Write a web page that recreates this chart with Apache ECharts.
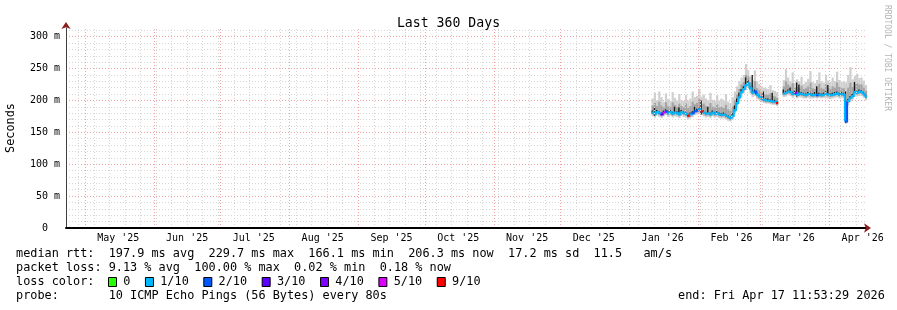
<!DOCTYPE html>
<html><head><meta charset="utf-8">
<script src="https://cdn.jsdelivr.net/npm/echarts@6/dist/echarts.min.js"></script>
<style>html,body{margin:0;padding:0;background:#fff}#c{width:897px;height:310px}</style>
</head><body><div id="c"></div>
<script>
// ---------- data (daily samples, values in milliseconds) ----------
const dayLabels = [
 '2026-01-11','2026-01-12','2026-01-13','2026-01-14','2026-01-15','2026-01-16','2026-01-17','2026-01-18','2026-01-19','2026-01-20',
 '2026-01-21','2026-01-22','2026-01-23','2026-01-24','2026-01-25','2026-01-26','2026-01-27','2026-01-28','2026-01-29','2026-01-30','2026-01-31',
 '2026-02-01','2026-02-02','2026-02-03','2026-02-04','2026-02-05','2026-02-06','2026-02-07','2026-02-08','2026-02-09','2026-02-10',
 '2026-02-11','2026-02-12','2026-02-13','2026-02-14','2026-02-15','2026-02-16','2026-02-17','2026-02-18','2026-02-19','2026-02-20',
 '2026-02-21','2026-02-22','2026-02-23','2026-02-24','2026-02-25','2026-02-26','2026-02-27','2026-02-28',
 '2026-03-01','2026-03-02','2026-03-03','2026-03-04','2026-03-05','2026-03-06','2026-03-07','2026-03-08','2026-03-09','2026-03-10',
 '2026-03-11','2026-03-12','2026-03-13','2026-03-14','2026-03-15','2026-03-16','2026-03-17','2026-03-18','2026-03-19','2026-03-20',
 '2026-03-21','2026-03-22','2026-03-23','2026-03-24','2026-03-25','2026-03-26','2026-03-27','2026-03-28','2026-03-29','2026-03-30','2026-03-31',
 '2026-04-01','2026-04-02','2026-04-03','2026-04-04','2026-04-05','2026-04-06','2026-04-07','2026-04-08','2026-04-09','2026-04-10',
 '2026-04-11','2026-04-12','2026-04-13','2026-04-14','2026-04-15','2026-04-16','2026-04-17'
];
const median = [
 181,179,182,180,178,181,183,180,182,179,181,180,178,182,180,179,176,178,180,183,184,
 186,183,181,179,180,178,181,179,180,178,177,178,176,174,172,176,185,196,205,213,218,224,227,219,212,214,209,206,
 203,201,200,200,199,198,198,196,null,null,211,212,214,213,210,212,209,211,210,209,208,210,209,208,209,208,209,208,209,210,209,
 208,209,210,211,209,210,209,167,199,204,207,213,212,214,213,210,206
];
const smokeMin = [
 175,173,176,174,172,175,177,174,176,173,175,174,172,176,174,173,170,172,174,177,178,
 180,177,175,173,174,172,175,173,174,172,171,172,170,168,167,170,178,189,198,206,211,216,219,211,205,207,202,200,
 197,196,195,195,194,193,193,191,null,null,205,206,208,207,204,206,203,205,204,203,203,204,203,203,204,203,204,203,204,204,203,
 202,203,204,205,203,204,203,163,192,198,201,206,206,207,207,204,200
];
const smokeMax = [
 203,212,200,214,205,198,211,202,199,213,204,200,210,201,199,209,200,203,214,205,207,
 218,206,209,203,200,212,201,199,208,200,203,199,210,198,196,205,214,222,230,236,240,257,248,237,232,247,230,226,
 222,220,219,218,224,216,215,213,null,null,232,249,236,230,244,228,233,230,237,226,229,234,246,229,227,232,244,230,228,240,231,
 229,236,230,245,232,229,230,228,240,252,233,238,242,235,236,231,224
];
const midLo = [
 178,176,179,177,175,178,180,177,179,176,178,177,175,179,177,176,173,175,177,180,181,
 183,180,178,176,177,175,178,176,177,175,174,175,173,171,169,173,182,193,202,210,215,221,224,216,209,211,206,203,
 200,198,197,197,196,195,195,193,null,null,208,209,211,210,207,209,206,208,207,206,205,207,206,205,206,205,206,205,206,207,206,
 205,206,207,208,206,207,206,165,196,201,204,210,209,211,210,207,203
];
const midHi = [
 192,196,191,198,192,189,197,191,190,197,193,190,195,191,189,195,188,191,198,194,196,
 202,194,195,191,190,196,190,189,194,189,190,188,193,186,184,190,200,209,218,225,229,240,238,228,222,230,219,216,
 212,210,209,209,211,207,206,204,null,null,222,230,225,222,227,220,221,220,223,218,219,222,228,219,218,221,226,219,218,225,220,
 218,222,220,228,221,219,219,200,220,228,221,226,227,225,225,220,215
];
const darkLo = [
 180,176,181,179,177,180,182,179,181,178,180,179,177,181,179,178,175,177,179,182,183,
 185,178,180,178,179,177,180,178,179,177,176,177,175,173,171,175,184,195,204,212,217,223,226,218,211,213,208,205,
 202,200,199,199,198,197,197,195,null,null,210,211,213,212,209,211,206,208,209,208,207,209,208,207,208,207,208,207,208,209,208,
 207,208,209,210,208,209,208,165,198,203,206,212,211,213,212,209,205
];
const darkHi = [
 184,189,185,183,181,184,186,183,185,182,190,183,189,185,183,182,179,181,183,190,187,
 189,200,184,182,190,181,184,182,183,181,180,181,179,177,175,180,192,203,212,218,222,236,232,222,240,217,213,209,
 206,214,203,203,202,212,201,199,null,null,217,215,217,220,213,215,228,225,213,212,211,213,212,211,213,222,212,211,212,214,224,
 211,212,213,214,212,213,212,214,202,207,210,229,215,217,216,213,209
];
const lostPings = [
 1,1,1,1,3,5,2,1,1,1,1,1,1,1,1,1,9,1,2,2,2,
 1,9,1,1,1,1,1,1,1,1,1,1,1,1,1,1,1,1,1,1,1,1,1,1,1,2,1,1,
 1,1,1,1,1,1,1,9,null,null,1,1,1,1,1,4,1,1,1,1,1,1,1,1,1,2,1,1,1,1,1,
 1,1,1,1,1,1,1,2,1,1,1,1,1,1,1,1,1
];
const lossLevels = [0,1,2,3,4,5,9];
const lossLabels = ['0','1/10','2/10','3/10','4/10','5/10','9/10'];
const lossColors = ['#26ff00','#00b8ff','#0059ff','#5e00ff','#7e00ff','#dd00ff','#ff0000'];

const yTickValues = [0,50,100,150,200,250,300];
const monthStarts = ['2025-05-01','2025-06-01','2025-07-01','2025-08-01','2025-09-01','2025-10-01',
 '2025-11-01','2025-12-01','2026-01-01','2026-02-01','2026-03-01','2026-04-01'];
const monthLabelDates = ['2025-05-16','2025-06-16','2025-07-16','2025-08-16','2025-09-16','2025-10-16',
 '2025-11-16','2025-12-16','2026-01-16','2026-02-16','2026-03-16','2026-04-16'];
const weekTicks = ['2025-04-28','2025-05-05','2025-05-12','2025-05-19','2025-05-26','2025-06-02','2025-06-09',
 '2025-06-16','2025-06-23','2025-06-30','2025-07-07','2025-07-14','2025-07-21','2025-07-28','2025-08-04',
 '2025-08-11','2025-08-18','2025-08-25','2025-09-01','2025-09-08','2025-09-15','2025-09-22','2025-09-29',
 '2025-10-06','2025-10-13','2025-10-20','2025-10-27','2025-11-03','2025-11-10','2025-11-17','2025-11-24',
 '2025-12-01','2025-12-08','2025-12-15','2025-12-22','2025-12-29','2026-01-05','2026-01-12','2026-01-19',
 '2026-01-26','2026-02-02','2026-02-09','2026-02-16','2026-02-23','2026-03-02','2026-03-09','2026-03-16',
 '2026-03-23','2026-03-30','2026-04-06','2026-04-13'];
const monthNames = ['Jan','Feb','Mar','Apr','May','Jun','Jul','Aug','Sep','Oct','Nov','Dec'];

const titleText = 'Last 360 Days';
const legendRow1 = 'median rtt:  197.9 ms avg  229.7 ms max  166.1 ms min  206.3 ms now  17.2 ms sd  11.5   am/s';
const legendRow2 = 'packet loss: 9.13 % avg  100.00 % max  0.02 % min  0.18 % now';
const legendRow3 = 'loss color:';
const legendRow4 = 'probe:       10 ICMP Echo Pings (56 Bytes) every 80s';
const endText = 'end: Fri Apr 17 11:53:29 2026';

// ---------- build ----------
const DAY = 86400000;
const toTs = s => Date.parse(s + 'T00:00:00Z');
const END_TS = Date.UTC(2026, 3, 17, 11, 53, 29);
const START_TS = END_TS - 360 * DAY;
const MONO = '"DejaVu Sans Mono", monospace';
const CW = 7.14;
const MINOR = '#d6d6d6', MAJOR = '#f0a4a4', ARROW = '#8b1c1c';

function band(lo, hi) {
  const out = [];
  dayLabels.forEach((d, i) => { if (lo[i] != null && hi[i] != null) out.push([toTs(d), lo[i], hi[i]]); });
  return out;
}
function rectItem(color, frac) {
  return function (params, api) {
    const t = api.value(0);
    const a = api.coord([t, api.value(2)]);
    const b = api.coord([t + DAY * frac, api.value(1)]);
    return { type: 'rect', shape: { x: a[0], y: a[1], width: b[0] - a[0], height: Math.max(1, b[1] - a[1]) },
      style: { fill: color } };
  };
}
const medData = [];
dayLabels.forEach((d, i) => { if (median[i] != null) medData.push([toTs(d), median[i], lostPings[i]]); });
const colorFor = n => lossColors[Math.max(0, lossLevels.indexOf(n))];

function yLabel(v) {
  if (yTickValues.indexOf(v) < 0) return '';
  if (v === 0) return '0  ';
  return String(v) + ' m';
}

const graphics = [];
const rowY = [254, 268, 282, 296];
const rowFont = '11.85px ' + MONO;
[legendRow1, legendRow2, legendRow3, legendRow4].forEach((t, i) => {
  graphics.push({ type: 'text', x: 16, y: rowY[i], style: { text: t, font: rowFont, fill: '#000', textVerticalAlign: 'middle' } });
});
let sx = 108;
lossLabels.forEach((lab, i) => {
  graphics.push({ type: 'rect', shape: { x: sx + 0.5, y: rowY[2] - 4.5, width: 8, height: 9 },
    style: { fill: lossColors[i], stroke: '#000', lineWidth: 1 } });
  graphics.push({ type: 'text', x: sx + 15.3, y: rowY[2], style: { text: lab, font: rowFont, fill: '#000', textVerticalAlign: 'middle' } });
  sx = sx + 15.3 + lab.length * CW + 14.5;
});
graphics.push({ type: 'text', x: 678, y: rowY[3], style: { text: endText, font: rowFont, fill: '#000', textVerticalAlign: 'middle' } });
graphics.push({ type: 'text', x: 887, y: 5, rotation: -Math.PI / 2,
  style: { text: 'RRDTOOL / TOBI OETIKER', font: '8px ' + MONO, fill: '#b4b4b4', textAlign: 'left', textVerticalAlign: 'middle' } });

const vGrid = (ticks, color) => ({
  type: 'line', data: [], z: 1, silent: true,
  markLine: { symbol: 'none', silent: true, animation: false, label: { show: false },
    lineStyle: { color: color, type: [1, 2], width: 1 },
    data: ticks.map(d => ({ xAxis: toTs(d) })) }
});

const chart = echarts.init(document.getElementById('c'), null, { renderer: 'canvas' });
chart.setOption({
  animation: false,
  backgroundColor: '#fff',
  title: { text: titleText, left: 'center', top: 12,
    textStyle: { fontFamily: MONO, fontSize: 13.2, fontWeight: 'normal', color: '#000' } },
  grid: { left: 66, right: 31, top: 28, bottom: 82, containLabel: false, outerBoundsMode: 'none' },
  xAxis: [{
    type: 'value', min: START_TS, max: END_TS, z: 5,
    axisLine: { show: true, lineStyle: { color: '#000', width: 2 } },
    axisTick: { show: false },
    splitLine: { show: false },
    axisLabel: {
      customValues: monthLabelDates.map(toTs),
      formatter: v => { const d = new Date(v); return monthNames[d.getUTCMonth()] + " '" + String(d.getUTCFullYear()).slice(2); },
      fontFamily: MONO, fontSize: 10, color: '#000', margin: 5, hideOverlap: false
    }
  }, {
    type: 'value', min: START_TS, max: END_TS, position: 'bottom', z: 5,
    axisLine: { show: true, lineStyle: { color: ARROW, width: 0 }, symbol: ['none', 'arrow'], symbolSize: [7, 7], symbolOffset: [0, 5] },
    axisTick: { show: false }, axisLabel: { show: false }, splitLine: { show: false }
  }],
  yAxis: [{
    type: 'value', min: 0, max: 313.5, interval: 10,
    name: 'Seconds', nameLocation: 'middle', nameGap: 49,
    nameTextStyle: { fontFamily: MONO, fontSize: 11.85, color: '#000' },
    axisLine: { show: true, lineStyle: { color: '#404040', width: 1 } },
    axisTick: { show: false },
    axisLabel: { show: false },
    splitLine: { show: true, showMaxLine: false, showMinLine: false, lineStyle: { color: MINOR, type: [1, 2], width: 1 } }
  }, {
    type: 'value', min: 0, max: 313.5, interval: 50, position: 'left',
    axisLine: { show: true, lineStyle: { color: ARROW, width: 0 }, symbol: ['none', 'arrow'], symbolSize: [7, 7], symbolOffset: [0, 6] },
    axisTick: { show: false },
    axisLabel: { formatter: yLabel, fontFamily: MONO, fontSize: 10, color: '#000', margin: 6, showMaxLabel: false },
    splitLine: { show: true, showMaxLine: false, showMinLine: false, lineStyle: { color: MAJOR, type: [1, 2], width: 1 } }
  }],
  graphic: graphics,
  series: [
    vGrid(weekTicks, MINOR),
    vGrid(monthStarts, MAJOR),
    { type: 'custom', z: 2, silent: true, renderItem: rectItem('#cfcfcf', 1), data: band(smokeMin, smokeMax), encode: { x: 0, y: [1, 2] } },
    { type: 'custom', z: 2, silent: true, renderItem: rectItem('#a4a4a4', 1), data: band(midLo, midHi), encode: { x: 0, y: [1, 2] } },
    { type: 'custom', z: 2, silent: true, renderItem: rectItem('#1a1a1a', 0.6), data: band(darkLo, darkHi), encode: { x: 0, y: [1, 2] } },
    { type: 'custom', z: 3, silent: true, data: medData, encode: { x: 0, y: 1 },
      renderItem: function (params, api) {
        const i = params.dataIndex;
        const cur = medData[i], nxt = medData[i + 1];
        const pts = [api.coord([cur[0], cur[1]]), api.coord([cur[0] + DAY, cur[1]])];
        if (nxt && nxt[0] === cur[0] + DAY) pts.push(api.coord([nxt[0], nxt[1]]));
        return { type: 'polyline', shape: { points: pts }, style: { stroke: colorFor(cur[2]), lineWidth: 2, fill: null } };
      } }
  ]
});
</script></body></html>
